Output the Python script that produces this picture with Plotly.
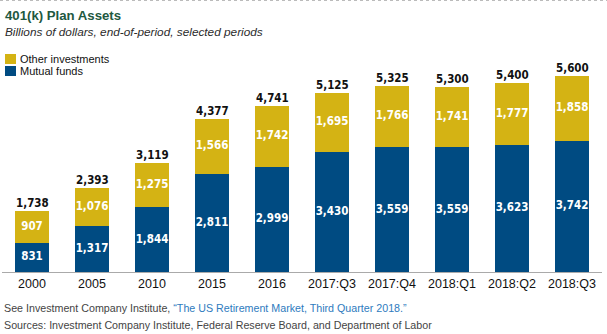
import plotly.graph_objects as go

categories = ["2000", "2005", "2010", "2015", "2016", "2017:Q3", "2017:Q4", "2018:Q1", "2018:Q2", "2018:Q3"]
mutual_funds = [831, 1317, 1844, 2811, 2999, 3430, 3559, 3559, 3623, 3742]
other_investments = [907, 1076, 1275, 1566, 1742, 1695, 1766, 1741, 1777, 1858]
totals = [1738, 2393, 3119, 4377, 4741, 5125, 5325, 5300, 5400, 5600]
legend_labels = ["Other investments", "Mutual funds"]

GOLD = "#D4B314"
BLUE = "#004B82"
LABEL_FONT = "DejaVu Sans Condensed, DejaVu Sans, sans-serif"
NARROW = "Liberation Sans Narrow, Arial Narrow, sans-serif"
ARIAL = "Liberation Sans, Arial, sans-serif"

W, H = 607, 334
ML, MR, MT, MB = 2, 5, 60, 62
PH = H - MT - MB
PW = W - ML - MR


def py(px):
    return (H - MB - px) / PH


def pxx(px):
    return (px - ML) / PW


def fmt(v):
    return f"{v:,}"


fig = go.Figure()
fig.add_trace(go.Bar(
    x=categories, y=mutual_funds, name=legend_labels[1],
    marker=dict(color=BLUE, line=dict(width=0)),
))
fig.add_trace(go.Bar(
    x=categories, y=other_investments, name=legend_labels[0],
    marker=dict(color=GOLD, line=dict(width=0)),
))

# inside labels
fig.add_trace(go.Scatter(
    x=categories, y=[m / 2 for m in mutual_funds], mode="text",
    text=[fmt(v) for v in mutual_funds],
    textfont=dict(color="white", size=11.5, family=LABEL_FONT, weight="bold"),
    showlegend=False, hoverinfo="skip",
))
fig.add_trace(go.Scatter(
    x=categories, y=[m + o / 2 for m, o in zip(mutual_funds, other_investments)], mode="text",
    text=[fmt(v) for v in other_investments],
    textfont=dict(color="white", size=11.5, family=LABEL_FONT, weight="bold"),
    showlegend=False, hoverinfo="skip",
))

annotations = []
for i, t in enumerate(totals):
    annotations.append(dict(
        x=i, y=t, xref="x", yref="y", text=fmt(t), showarrow=False,
        yanchor="bottom", yshift=-1,
        font=dict(color="#111111", size=11.5, family=LABEL_FONT, weight="bold"),
    ))

annotations += [
    dict(x=pxx(3), y=py(15), xref="paper", yref="paper", xanchor="left", yanchor="middle",
         text="<b>401(k) Plan Assets</b>", showarrow=False,
         font=dict(size=13.2, color="#22583F", family=ARIAL)),
    dict(x=pxx(3), y=py(32), xref="paper", yref="paper", xanchor="left", yanchor="middle",
         text="<i>Billions of dollars, end-of-period, selected periods</i>", showarrow=False,
         font=dict(size=11.8, color="#2b2b2b", family=ARIAL)),
    dict(x=pxx(2), y=py(308), xref="paper", yref="paper", xanchor="left", yanchor="middle",
         text="See Investment Company Institute, <span style='color:#2E7BBE'>“The US Retirement Market, Third Quarter 2018.”</span>",
         showarrow=False, font=dict(size=10.7, color="#444444", family=ARIAL)),
    dict(x=pxx(2), y=py(325), xref="paper", yref="paper", xanchor="left", yanchor="middle",
         text="Sources: Investment Company Institute, Federal Reserve Board, and Department of Labor",
         showarrow=False, font=dict(size=10.7, color="#444444", family=ARIAL)),
]

shapes = [
    dict(type="line", xref="paper", yref="paper", x0=pxx(0), x1=pxx(607), y0=py(0.5), y1=py(0.5),
         line=dict(color="#BBBBBB", width=1, dash="dot")),
]

# manual legend (compact, like the reference)
legend_items = [(legend_labels[0], GOLD, 59), (legend_labels[1], BLUE, 71)]
for label, color, yc in legend_items:
    shapes.append(dict(type="rect", xref="paper", yref="paper",
                       x0=pxx(5), x1=pxx(16), y0=py(yc - 5), y1=py(yc + 5),
                       fillcolor=color, line=dict(width=0)))
    annotations.append(dict(x=pxx(18), y=py(yc), xref="paper", yref="paper",
                            xanchor="left", yanchor="middle", text=label, showarrow=False,
                            font=dict(size=11, family=NARROW, color="#111111")))

fig.update_layout(
    width=W, height=H,
    margin=dict(l=ML, r=MR, t=MT, b=MB),
    barmode="stack", bargap=0.42,
    plot_bgcolor="white", paper_bgcolor="white",
    showlegend=False,
    xaxis=dict(type="category", range=[-0.5, len(categories) - 0.5], showgrid=False,
               showline=True, linecolor="#AAAAAA", linewidth=1,
               ticks="", tickfont=dict(size=12.5, family=NARROW, color="#111111"),
               fixedrange=True),
    yaxis=dict(range=[0, PH / 0.035], showgrid=False, showticklabels=False, zeroline=False,
               showline=False, ticks="", fixedrange=True),
    annotations=annotations,
    shapes=shapes,
    hovermode=False,
)

fig.write_html("out.html", config={"displayModeBar": False})
